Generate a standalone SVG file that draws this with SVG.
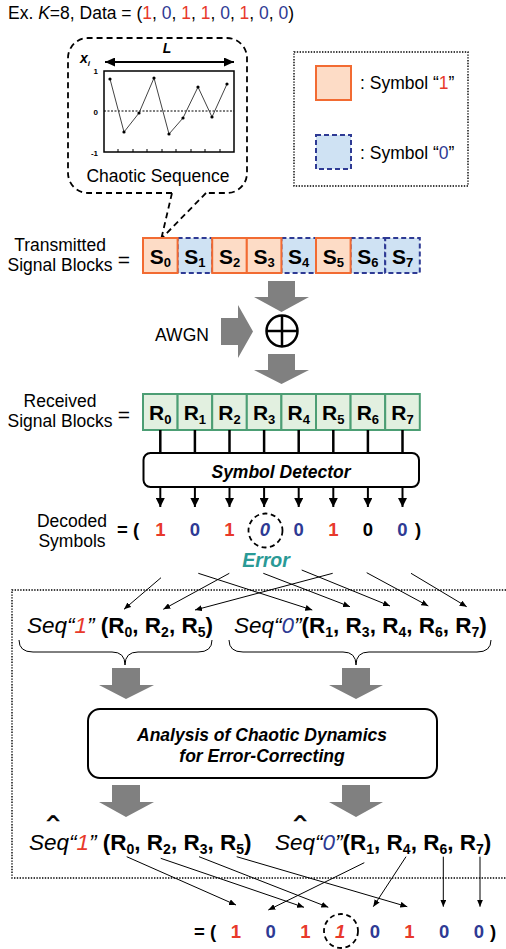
<svg xmlns="http://www.w3.org/2000/svg" width="506" height="949" viewBox="0 0 506 949">
<style>
text{font-family:"Liberation Sans",Arial,sans-serif;fill:#000}
.t{font-size:17.5px}
.b{font-weight:bold}
.i{font-style:italic}
.red{fill:#E8392B}
.blu{fill:#2E3A94}
.teal{fill:#2A9A96}
.sub{font-size:13px}
.lbl{font-size:21px;font-weight:bold}
.dig{font-size:18.5px;font-weight:bold}
.seq{font-size:22.5px}
.one{fill:#FDDCC6;stroke:#F26B32;stroke-width:2}
.zero{fill:#CFE2F3;stroke:#2E3A94;stroke-width:2;stroke-dasharray:5,3}
.rx{fill:#E2F0E0;stroke:#4C9E74;stroke-width:2}
.gray{fill:#808080}
.thin{stroke:#000;stroke-width:1;fill:none}
.dot{stroke:#000;stroke-width:1.4;fill:none;stroke-dasharray:1.4,1.4}
.hat{font-size:13px;stroke:#000;stroke-width:0.5}
</style>
<defs>
<marker id="ah" markerUnits="userSpaceOnUse" markerWidth="9" markerHeight="9" refX="9" refY="4.5" orient="auto"><path d="M0,0 L9,4.5 L0,9 z" fill="#000"/></marker>
<marker id="sa" markerUnits="userSpaceOnUse" markerWidth="7" markerHeight="6" refX="7" refY="3" orient="auto"><path d="M0,0 L7,3 L0,6 z" fill="#000"/></marker>
<marker id="la" markerUnits="userSpaceOnUse" markerWidth="10" markerHeight="9" refX="10" refY="4.5" orient="auto-start-reverse"><path d="M0,0 L10,4.5 L0,9 z" fill="#000"/></marker>
</defs>

<g id="title">
<text class="t" x="8" y="19">Ex. <tspan class="i">K</tspan>=8, Data = (<tspan class="red">1</tspan>, <tspan class="blu">0</tspan>, <tspan class="red">1</tspan>, <tspan class="red">1</tspan>, <tspan class="blu">0</tspan>, <tspan class="red">1</tspan>, <tspan class="blu">0</tspan>, <tspan class="blu">0</tspan>)</text>
</g>

<g id="chaotic-callout">
<path d="M172,193 H88 A20,20 0 0 1 68,173 V58 A20,20 0 0 1 88,38 H227 A20,20 0 0 1 247,58 V173 A20,20 0 0 1 227,193 H206 M172,193 L161,240 M206,193 L162,238" fill="none" stroke="#000" stroke-width="1.8" stroke-dasharray="6,4"/>
<text x="167" y="53" font-size="14" class="b i" text-anchor="middle">L</text>
<line x1="105" y1="62" x2="234" y2="62" stroke="#000" stroke-width="2" marker-start="url(#la)" marker-end="url(#la)"/>
<text x="80" y="63" font-size="14" class="b i">x<tspan font-size="8" dy="3">i</tspan></text>
<rect x="104" y="71" width="130" height="81" fill="#fff" stroke="#000" stroke-width="1.5"/>
<line x1="104" y1="111" x2="234" y2="111" stroke="#000" stroke-width="1" stroke-dasharray="2,1.5"/>
<g stroke="#000" stroke-width="1"><line x1="118" y1="152" x2="118" y2="149"/><line x1="133" y1="152" x2="133" y2="149"/><line x1="147" y1="152" x2="147" y2="149"/><line x1="162" y1="152" x2="162" y2="149"/><line x1="176" y1="152" x2="176" y2="149"/><line x1="191" y1="152" x2="191" y2="149"/><line x1="205" y1="152" x2="205" y2="149"/><line x1="220" y1="152" x2="220" y2="149"/></g>
<polyline points="110,79 124,132 139,113 154,78 169,134 183,118 198,87 212,117 227,84" fill="none" stroke="#444" stroke-width="1"/>
<g fill="#000"><circle cx="110" cy="79" r="1.6"/><circle cx="124" cy="132" r="1.6"/><circle cx="139" cy="113" r="1.6"/><circle cx="154" cy="78" r="1.6"/><circle cx="169" cy="134" r="1.6"/><circle cx="183" cy="118" r="1.6"/><circle cx="198" cy="87" r="1.6"/><circle cx="212" cy="117" r="1.6"/><circle cx="227" cy="84" r="1.6"/></g>
<text x="98" y="74" font-size="8" class="b" text-anchor="end">1</text>
<text x="98" y="115" font-size="8" class="b" text-anchor="end">0</text>
<text x="98" y="156" font-size="8" class="b" text-anchor="end">-1</text>
<text class="t" x="158" y="182" text-anchor="middle">Chaotic Sequence</text>
</g>

<g id="legend">
<rect x="294" y="52" width="174" height="134" class="dot"/>
<rect x="316" y="66" width="35" height="34" class="one"/>
<text class="t" x="360" y="89">: Symbol “<tspan class="red">1</tspan>”</text>
<rect x="316" y="135" width="35" height="34" class="zero"/>
<text class="t" x="360" y="159">: Symbol “<tspan class="blu">0</tspan>”</text>
</g>

<g id="tx-label">
<text class="t" x="60" y="251" text-anchor="middle">Transmitted</text>
<text class="t" x="60" y="271" text-anchor="middle">Signal Blocks</text>
<text x="124" y="267" font-size="21" text-anchor="middle">=</text>
</g>

<g id="tx-blocks">
<rect x="177.6" y="238" width="34.6" height="35" class="zero"/>
<rect x="281.4" y="238" width="34.6" height="35" class="zero"/>
<rect x="350.6" y="238" width="34.6" height="35" class="zero"/>
<rect x="385.2" y="238" width="34.6" height="35" class="zero"/>
<rect x="143" y="238" width="34.6" height="35" class="one"/>
<rect x="212.2" y="238" width="34.6" height="35" class="one"/>
<rect x="246.8" y="238" width="34.6" height="35" class="one"/>
<rect x="316" y="238" width="34.6" height="35" class="one"/>
<text class="lbl" x="160.3" y="264" text-anchor="middle">S<tspan class="sub" dy="3">0</tspan></text>
<text class="lbl" x="194.9" y="264" text-anchor="middle">S<tspan class="sub" dy="3">1</tspan></text>
<text class="lbl" x="229.5" y="264" text-anchor="middle">S<tspan class="sub" dy="3">2</tspan></text>
<text class="lbl" x="264.1" y="264" text-anchor="middle">S<tspan class="sub" dy="3">3</tspan></text>
<text class="lbl" x="298.7" y="264" text-anchor="middle">S<tspan class="sub" dy="3">4</tspan></text>
<text class="lbl" x="333.3" y="264" text-anchor="middle">S<tspan class="sub" dy="3">5</tspan></text>
<text class="lbl" x="367.9" y="264" text-anchor="middle">S<tspan class="sub" dy="3">6</tspan></text>
<text class="lbl" x="402.5" y="264" text-anchor="middle">S<tspan class="sub" dy="3">7</tspan></text>
</g>

<g id="channel">
<polygon class="gray" points="268,281 295,281 295,297 309,297 281.5,312 254,297 268,297"/>
<polygon class="gray" points="221,318 238,318 238,305 253,331.5 238,358 238,345 221,345"/>
<text class="t" x="182" y="341" text-anchor="middle">AWGN</text>
<circle cx="282" cy="331" r="15.5" fill="#fff" stroke="#000" stroke-width="2.5"/>
<line x1="266.5" y1="331" x2="297.5" y2="331" stroke="#000" stroke-width="2.5"/>
<line x1="282" y1="315.5" x2="282" y2="346.5" stroke="#000" stroke-width="2.5"/>
<polygon class="gray" points="268,354 295,354 295,370 309,370 281.5,384 254,370 268,370"/>
</g>

<g id="rx-label">
<text class="t" x="60" y="407" text-anchor="middle">Received</text>
<text class="t" x="60" y="427" text-anchor="middle">Signal Blocks</text>
<text x="124" y="422" font-size="21" text-anchor="middle">=</text>
</g>

<g id="rx-blocks">
<rect x="143" y="394" width="34.6" height="36" class="rx"/>
<rect x="177.6" y="394" width="34.6" height="36" class="rx"/>
<rect x="212.2" y="394" width="34.6" height="36" class="rx"/>
<rect x="246.8" y="394" width="34.6" height="36" class="rx"/>
<rect x="281.4" y="394" width="34.6" height="36" class="rx"/>
<rect x="316" y="394" width="34.6" height="36" class="rx"/>
<rect x="350.6" y="394" width="34.6" height="36" class="rx"/>
<rect x="385.2" y="394" width="34.6" height="36" class="rx"/>
<text class="lbl" x="160.3" y="420" text-anchor="middle">R<tspan class="sub" dy="4">0</tspan></text>
<text class="lbl" x="194.9" y="420" text-anchor="middle">R<tspan class="sub" dy="4">1</tspan></text>
<text class="lbl" x="229.5" y="420" text-anchor="middle">R<tspan class="sub" dy="4">2</tspan></text>
<text class="lbl" x="264.1" y="420" text-anchor="middle">R<tspan class="sub" dy="4">3</tspan></text>
<text class="lbl" x="298.7" y="420" text-anchor="middle">R<tspan class="sub" dy="4">4</tspan></text>
<text class="lbl" x="333.3" y="420" text-anchor="middle">R<tspan class="sub" dy="4">5</tspan></text>
<text class="lbl" x="367.9" y="420" text-anchor="middle">R<tspan class="sub" dy="4">6</tspan></text>
<text class="lbl" x="402.5" y="420" text-anchor="middle">R<tspan class="sub" dy="4">7</tspan></text>
</g>

<g id="symbol-detector">
<rect x="143.5" y="453" width="275.5" height="34" rx="7" fill="#fff" stroke="#000" stroke-width="2"/>
<text class="t b i" x="281" y="478" text-anchor="middle">Symbol Detector</text>
</g>

<g id="decoded">
<text class="t" x="72" y="527" text-anchor="middle">Decoded</text>
<text class="t" x="72" y="547" text-anchor="middle">Symbols</text>
<text class="dig" x="117" y="536">= (</text>
<text class="dig red" x="160.3" y="536" text-anchor="middle">1</text>
<text class="dig blu" x="194.9" y="536" text-anchor="middle">0</text>
<text class="dig red" x="229.5" y="536" text-anchor="middle">1</text>
<text class="dig blu i" x="265" y="536" text-anchor="middle">0</text>
<text class="dig blu" x="298.7" y="536" text-anchor="middle">0</text>
<text class="dig red" x="333.3" y="536" text-anchor="middle">1</text>
<text class="dig" x="367.9" y="536" text-anchor="middle">0</text>
<text class="dig blu" x="402.5" y="536" text-anchor="middle">0</text>
<text class="dig" x="415" y="536">)</text>
<circle cx="265.5" cy="530.5" r="17" fill="none" stroke="#000" stroke-width="1.8" stroke-dasharray="5,3.5"/>
<text class="b i teal" font-size="19.5" x="266" y="567" text-anchor="middle">Error</text>
</g>

<g id="seq-groups">
<text class="seq" x="27" y="633"><tspan class="i">Seq“<tspan class="red">1</tspan>” </tspan><tspan class="b">(R<tspan font-size="14" dy="4">0</tspan><tspan dy="-4">, R</tspan><tspan font-size="14" dy="4">2</tspan><tspan dy="-4">, R</tspan><tspan font-size="14" dy="4">5</tspan><tspan dy="-4">)</tspan></tspan></text>
<text class="seq" x="234" y="633"><tspan class="i">Seq“<tspan class="blu">0</tspan>”</tspan><tspan class="b">(R<tspan font-size="14" dy="4">1</tspan><tspan dy="-4">, R</tspan><tspan font-size="14" dy="4">3</tspan><tspan dy="-4">, R</tspan><tspan font-size="14" dy="4">4</tspan><tspan dy="-4">, R</tspan><tspan font-size="14" dy="4">6</tspan><tspan dy="-4">, R</tspan><tspan font-size="14" dy="4">7</tspan><tspan dy="-4">)</tspan></tspan></text>
<path class="thin" d="M19,640 Q19,652 33,652 H112 Q125,652 125,665 Q125,652 138,652 H198 Q212,652 212,640"/>
<path class="thin" d="M229,640 Q229,652 243,652 H343 Q356,652 356,665 Q356,652 369,652 H477 Q491,652 491,640"/>
<polygon class="gray" points="112,668 140,668 140,685 154,685 126,699 99,685 112,685"/>
<polygon class="gray" points="342,668 370,668 370,685 383,685 356,699 329,685 342,685"/>
</g>

<g id="analysis">
<rect x="88" y="709" width="349" height="69" rx="12" fill="#fff" stroke="#000" stroke-width="2"/>
<text class="t b i" x="262" y="741" text-anchor="middle">Analysis of Chaotic Dynamics</text>
<text class="t b i" x="262" y="762" text-anchor="middle">for Error-Correcting</text>
<polygon class="gray" points="112,785 140,785 140,802 154,802 126,817 99,802 112,802"/>
<polygon class="gray" points="342,785 370,785 370,802 383,802 356,817 329,802 342,802"/>
</g>

<g id="seq-hat">
<text class="hat" transform="translate(53,826) scale(2,1.1)" text-anchor="middle">^</text>
<text class="seq" x="29" y="850"><tspan class="i">Seq“<tspan class="red">1</tspan>” </tspan><tspan class="b">(R<tspan font-size="14" dy="4">0</tspan><tspan dy="-4">, R</tspan><tspan font-size="14" dy="4">2</tspan><tspan dy="-4">, R</tspan><tspan font-size="14" dy="4">3</tspan><tspan dy="-4">, R</tspan><tspan font-size="14" dy="4">5</tspan><tspan dy="-4">)</tspan></tspan></text>
<text class="hat" transform="translate(300,826) scale(2,1.1)" text-anchor="middle">^</text>
<text class="seq" x="275" y="850"><tspan class="i">Seq“<tspan class="blu">0</tspan>”</tspan><tspan class="b">(R<tspan font-size="14" dy="4">1</tspan><tspan dy="-4">, R</tspan><tspan font-size="14" dy="4">4</tspan><tspan dy="-4">, R</tspan><tspan font-size="14" dy="4">6</tspan><tspan dy="-4">, R</tspan><tspan font-size="14" dy="4">7</tspan><tspan dy="-4">)</tspan></tspan></text>
</g>

<g id="corrected">
<text class="dig" x="194" y="938">= (</text>
<text class="dig red" x="236" y="938" text-anchor="middle">1</text>
<text class="dig blu" x="270.7" y="938" text-anchor="middle">0</text>
<text class="dig red" x="305.4" y="938" text-anchor="middle">1</text>
<text class="dig red i" x="340.1" y="938" text-anchor="middle">1</text>
<text class="dig blu" x="374.8" y="938" text-anchor="middle">0</text>
<text class="dig red" x="409.5" y="938" text-anchor="middle">1</text>
<text class="dig blu" x="444.2" y="938" text-anchor="middle">0</text>
<text class="dig blu" x="478.9" y="938" text-anchor="middle">0</text>
<text class="dig" x="490" y="938">)</text>
<circle cx="341" cy="931" r="17" fill="none" stroke="#000" stroke-width="1.8" stroke-dasharray="5,3.5"/>
</g>

<g id="region">
<path class="dot" d="M506,590 H12 V878 H506"/>
</g>

<g id="connectors">
<g stroke="#000" stroke-width="2.5">
<line x1="160.3" y1="430" x2="160.3" y2="453"/><line x1="194.9" y1="430" x2="194.9" y2="453"/><line x1="229.5" y1="430" x2="229.5" y2="453"/><line x1="264.1" y1="430" x2="264.1" y2="453"/><line x1="298.7" y1="430" x2="298.7" y2="453"/><line x1="333.3" y1="430" x2="333.3" y2="453"/><line x1="367.9" y1="430" x2="367.9" y2="453"/><line x1="402.5" y1="430" x2="402.5" y2="453"/>
</g>
<g stroke="#000" stroke-width="2" marker-end="url(#ah)">
<line x1="160.3" y1="487" x2="160.3" y2="507"/><line x1="194.9" y1="487" x2="194.9" y2="507"/><line x1="229.5" y1="487" x2="229.5" y2="507"/><line x1="264.1" y1="487" x2="264.1" y2="507"/><line x1="298.7" y1="487" x2="298.7" y2="507"/><line x1="333.3" y1="487" x2="333.3" y2="507"/><line x1="367.9" y1="487" x2="367.9" y2="507"/><line x1="402.5" y1="487" x2="402.5" y2="507"/>
</g>
<g stroke="#000" stroke-width="1" marker-end="url(#sa)">
<line x1="161" y1="577.7" x2="124" y2="609.3"/>
<line x1="198.3" y1="573.3" x2="312.3" y2="610"/>
<line x1="229.3" y1="573.3" x2="163.3" y2="609.3"/>
<line x1="263.3" y1="573.3" x2="350" y2="606.7"/>
<line x1="301.7" y1="570" x2="390" y2="606"/>
<line x1="332.7" y1="573.3" x2="195" y2="610"/>
<line x1="366.7" y1="572.7" x2="428.3" y2="606"/>
<line x1="411" y1="573.3" x2="466.7" y2="606.7"/>
<line x1="126.7" y1="856.7" x2="236" y2="905"/>
<line x1="160.7" y1="858.3" x2="304" y2="907.3"/>
<line x1="199" y1="856.7" x2="328.3" y2="907.3"/>
<line x1="236.7" y1="856.7" x2="407.3" y2="906.7"/>
<line x1="364.3" y1="862.7" x2="268.3" y2="910"/>
<line x1="406" y1="856.7" x2="373.3" y2="906.7"/>
<line x1="443.3" y1="856.7" x2="443.3" y2="906.7"/>
<line x1="480" y1="856.7" x2="480" y2="906.7"/>
</g>
</g>
</svg>
